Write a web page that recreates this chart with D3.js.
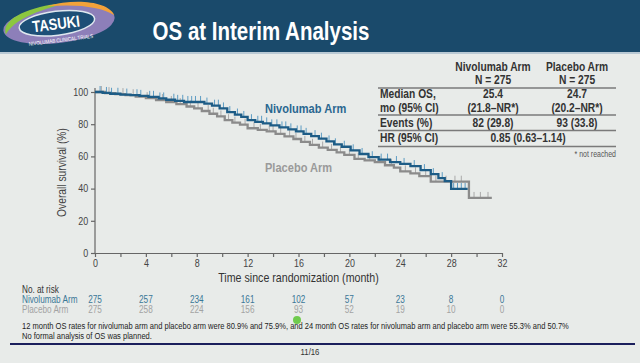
<!DOCTYPE html>
<html>
<head>
<meta charset="utf-8">
<script src="https://cdn.jsdelivr.net/npm/d3@7/dist/d3.min.js"></script>
<style>
body { margin: 0; background: #e8ebe9; }
svg { display: block; }
</style>
</head>
<body>
<svg id="chart"></svg>
<script>
// Size of the slide
var width = 640;
var height = 363;
var FONT = '"Liberation Sans", Arial, sans-serif';
var SQUEEZE = 0.82;   // slide uses a narrow face, squeeze the glyphs

// axis ticks
var xTicks = d3.range(0, 33, 2);
var yTicks = [0, 20, 40, 60, 80, 100];

// KM steps (month, OS %)
var nivoTimes = [0, 0.6, 1.2, 2.0, 2.8, 3.5, 4.2, 5.0, 5.6, 6.3, 7.0, 8.6, 9.2, 9.8, 10.4, 11.0, 11.5, 12.0, 12.6, 13.2, 13.8, 14.5, 15.2, 15.8, 16.4, 17.0, 17.6, 18.2, 18.8, 19.4, 20.1, 20.8, 21.5, 22.3, 23.2, 24.0, 24.8, 25.6, 26.4, 27.0, 27.5, 28.0];
var nivoSurv  = [100, 99.4, 98.9, 98.4, 98.0, 97.6, 97.0, 96.0, 95.2, 94.5, 93.8, 92.8, 91.5, 89.8, 87.5, 86.0, 84.5, 82.5, 81.5, 80.5, 79.3, 78.0, 76.8, 75.5, 74.0, 72.6, 71.0, 69.3, 67.5, 66.0, 63.8, 61.5, 59.5, 58.0, 56.5, 55.3, 54.0, 51.5, 49.0, 46.5, 44.7, 39.8];
var nivoEnd = 29.3;
var nivoCensor = [0.4, 0.9, 1.3, 1.8, 2.5, 3.3, 3.6, 4.3, 4.6, 5.1, 5.4, 6.2, 6.5, 6.9, 7.3, 7.6, 7.9, 8.3, 8.8, 9.4, 9.7, 10.1, 10.6, 11.2, 11.7, 12.3, 12.8, 13.1, 13.5, 13.9, 14.3, 14.7, 15.0, 15.4, 15.9, 16.2, 16.6, 17.3, 17.8, 18.4, 18.9, 19.6, 20.3, 21.0, 21.8, 22.5, 23.0, 23.7, 24.3, 25.1, 25.9, 26.6, 27.3, 28.2, 28.5, 28.8, 29.1];

var placeboTimes = [0, 0.8, 1.6, 2.4, 3.2, 4.0, 4.8, 5.6, 6.4, 7.2, 7.8, 8.4, 9.0, 9.6, 10.2, 10.8, 11.4, 12.0, 12.8, 13.5, 14.2, 14.9, 15.6, 16.2, 16.9, 17.6, 18.3, 19.0, 19.6, 20.4, 21.2, 22.0, 22.8, 23.5, 24.0, 24.8, 25.5, 26.4, 29.4];
var placeboSurv  = [100, 99.3, 98.7, 98.0, 97.2, 96.2, 95.0, 93.8, 92.5, 91.0, 89.8, 88.2, 86.5, 84.8, 82.5, 81.0, 79.7, 77.5, 76.5, 75.5, 74.0, 72.5, 70.8, 69.0, 67.2, 65.5, 64.0, 62.5, 61.0, 58.5, 57.5, 56.5, 54.5, 53.0, 50.7, 49.5, 47.8, 44.3, 34.2];
var placeboEnd = 31.2;
var placeboCensor = [0.5, 1.1, 2.2, 3.0, 4.1, 5.3, 6.0, 6.7, 7.5, 8.1, 8.9, 9.3, 9.9, 10.5, 11.0, 11.8, 12.5, 13.0, 13.7, 14.0, 14.6, 15.3, 15.8, 16.5, 17.1, 17.9, 18.6, 19.3, 20.0, 20.7, 21.6, 22.4, 23.3, 24.4, 25.2, 26.0, 26.8, 27.6, 28.3, 28.8, 29.8, 30.3, 30.9];

// number at risk
var riskTimes = [0, 4, 8, 12, 16, 20, 24, 28, 32];
var nivoRisk = [275, 257, 234, 161, 102, 57, 23, 8, 0];
var placeboRisk = [275, 258, 224, 156, 93, 52, 19, 10, 0];

// summary table
var tableHead = ["Nivolumab Arm", "Placebo Arm"];
var tableN = ["N = 275", "N = 275"];
var medianOS = ["25.4", "24.7"];
var medianCI = ["(21.8–NR*)", "(20.2–NR*)"];
var events = ["82 (29.8)", "93 (33.8)"];
var hrText = "0.85 (0.63–1.14)";

var footnotes = [
  "12 month OS rates for nivolumab arm and placebo arm were 80.9% and 75.9%, and 24 month OS rates for nivolumab arm and placebo arm were 55.3% and 50.7%",
  "No formal analysis of OS was planned."
];

var svg = d3.select('#chart')
    .attr("width", width)
    .attr("height", height)
    .style("font-family", FONT);

// narrow text helper
var ntext = function(parent, tx, ty, str, anchor){
    return parent.append("text")
        .attr("transform", "translate(" + tx + "," + ty + ") scale(" + SQUEEZE + ",1)")
        .attr("text-anchor", anchor || "start")
        .text(str);
};

svg.append("rect").attr("width", width).attr("height", height).attr("fill", "#e8ebe9");

// header band
svg.append("rect").attr("width", width).attr("height", 52).attr("fill", "#1a4a6b");
svg.append("rect").attr("y", 52).attr("width", width).attr("height", 2).attr("fill", "#b9c9d4");
ntext(svg, 261, 40, "OS at Interim Analysis", "middle")
    .attr("fill", "#ffffff")
    .attr("font-size", 25).attr("font-weight", "bold");

// logo
var logo = svg.append("g").attr("transform", "translate(59,24) rotate(-7)");
logo.append("ellipse").attr("rx", 56).attr("ry", 19).attr("fill", "#8d7fb9");
logo.append("path").attr("d", "M-54,4 C-58,-14 -20,-22 10,-20 C-20,-16 -44,-10 -54,4 Z").attr("fill", "#8cc640");
logo.append("path").attr("d", "M-10,-19 C20,-24 52,-16 56,-2 C44,-12 20,-18 -10,-19 Z").attr("fill", "#f2a23a");
logo.append("ellipse").attr("cx", -2).attr("cy", -1).attr("rx", 38).attr("ry", 12).attr("fill", "#1d4f77")
    .attr("stroke", "#dfe8ef").attr("stroke-width", 1.5);
ntext(logo, -3, 5, "TASUKI", "middle")
    .attr("fill", "#ffffff").attr("font-size", 16).attr("font-weight", "bold");
ntext(logo, 0, 18, "NIVOLUMAB CLINICAL TRIALS", "middle")
    .attr("fill", "#ffffff").attr("font-size", 5.5);

// scales
var x = d3.scaleLinear().domain([0, 32]).range([95, 502]);
var y = d3.scaleLinear().domain([0, 100]).range([253, 92]);

// axes
var yAxis = svg.append("g").attr("transform", "translate(95,0)")
    .call(d3.axisLeft(y).tickValues(yTicks).tickSize(4).tickSizeOuter(0).tickPadding(3));
var xAxis = svg.append("g").attr("transform", "translate(0,253)")
    .call(d3.axisBottom(x).tickValues(xTicks).tickSize(4).tickSizeOuter(0).tickPadding(3)
        .tickFormat(d => d % 4 === 0 ? d : ""));
[xAxis, yAxis].forEach(function(ax){
    ax.select(".domain").attr("stroke", "#666").attr("stroke-width", 1.2);
    ax.selectAll(".tick line").attr("stroke", "#666").attr("stroke-width", 1.2);
    ax.selectAll(".tick text").attr("fill", "#444").attr("font-size", 10.5).attr("font-family", FONT);
});
xAxis.selectAll(".tick text").attr("transform", "scale(0.85,1)");
yAxis.selectAll(".tick text").attr("x", -8).attr("transform", "scale(0.85,1)");
yAxis.select(".domain").attr("d", "M0," + (y(100) - 4) + "V" + y(0));

svg.append("text")
    .attr("transform", "translate(66," + y(50) + ") rotate(-90) scale(" + SQUEEZE + ",1)")
    .attr("text-anchor", "middle")
    .attr("fill", "#444").attr("font-size", 12.5)
    .text("Overall survival (%)");
ntext(svg, x(16), 282, "Time since randomization (month)", "middle")
    .attr("fill", "#333").attr("font-size", 13);

// KM curves
var survAt = function(times, surv, t){
    var i = d3.bisectRight(times, t) - 1;
    return surv[Math.max(i, 0)];
};
var line = d3.line().x(d => x(d[0])).y(d => y(d[1])).curve(d3.curveStepAfter);

var drawArm = function(times, surv, end, censor, color, tickColor){
    var pts = times.map((t, i) => [t, surv[i]]);
    pts.push([end, surv[surv.length - 1]]);
    svg.append("g").selectAll("line")
        .data(censor)
        .enter().append("line")
        .attr("x1", d => x(d)).attr("x2", d => x(d))
        .attr("y1", d => y(survAt(times, surv, d)))
        .attr("y2", d => y(survAt(times, surv, d)) - 6)
        .attr("stroke", tickColor).attr("stroke-width", 1);
    svg.append("path")
        .datum(pts)
        .attr("d", line)
        .attr("fill", "none")
        .attr("stroke", color)
        .attr("stroke-width", 2.3);
};
drawArm(placeboTimes, placeboSurv, placeboEnd, placeboCensor, "#8b8b8b", "#a9a9a9");
drawArm(nivoTimes, nivoSurv, nivoEnd, nivoCensor, "#1d5c86", "#5d9cc3");

ntext(svg, 265, 113, "Nivolumab Arm")
    .attr("fill", "#2a6790").attr("font-size", 13.5).attr("font-weight", "bold");
ntext(svg, 265, 172, "Placebo Arm")
    .attr("fill", "#9a9a9a").attr("font-size", 13.5).attr("font-weight", "bold");

// summary table
var colX = [493, 577];
var tbl = svg.append("g").attr("fill", "#333").attr("font-size", 12.5).attr("font-weight", "bold");
colX.forEach(function(cx, i){
    ntext(tbl, cx, 71, tableHead[i], "middle");
    ntext(tbl, cx, 84, tableN[i], "middle");
    ntext(tbl, cx, 98, medianOS[i], "middle");
    ntext(tbl, cx, 111.5, medianCI[i], "middle");
    ntext(tbl, cx, 126.5, events[i], "middle");
});
ntext(tbl, 380, 98, "Median OS,");
ntext(tbl, 380, 111.5, "mo (95% CI)");
ntext(tbl, 380, 126.5, "Events (%)");
ntext(tbl, 380, 142, "HR (95% CI)");
ntext(tbl, 528, 142, hrText, "middle");
[88, 115, 130.5, 146.5].forEach(function(ly){
    svg.append("line").attr("x1", 378).attr("x2", 616).attr("y1", ly).attr("y2", ly)
        .attr("stroke", "#7a7a7a").attr("stroke-width", 1.6);
});
ntext(svg, 616, 157, "* not reached", "end")
    .attr("fill", "#555").attr("font-size", 8.5);

// number at risk
var risk = svg.append("g").attr("font-size", 10);
ntext(risk, 22, 293, "No. at risk").attr("fill", "#333");
ntext(risk, 22, 303, "Nivolumab Arm").attr("fill", "#3a7797");
ntext(risk, 22, 313, "Placebo Arm").attr("fill", "#a3a3a3");
nivoRisk.forEach(function(d, i){
    ntext(risk, x(riskTimes[i]), 303, d, "middle").attr("fill", "#3a7797");
});
placeboRisk.forEach(function(d, i){
    ntext(risk, x(riskTimes[i]), 313, d, "middle").attr("fill", "#a3a3a3");
});

// footnotes
var foot = svg.append("g").attr("fill", "#222").attr("font-size", 9.2);
footnotes.forEach(function(d, i){
    ntext(foot, 22, 329 + i * 9.5, d);
});

// laser pointer dot
svg.append("circle").attr("cx", 297).attr("cy", 320).attr("r", 4).attr("fill", "#63c83c").attr("opacity", 0.9);

// bottom rule and page number
svg.append("line").attr("x1", 10).attr("x2", 635).attr("y1", 344).attr("y2", 344)
    .attr("stroke", "#1b1f5c").attr("stroke-width", 2);
ntext(svg, 310, 355, "11/16", "middle")
    .attr("fill", "#333").attr("font-size", 9.5);
</script>
</body>
</html>
